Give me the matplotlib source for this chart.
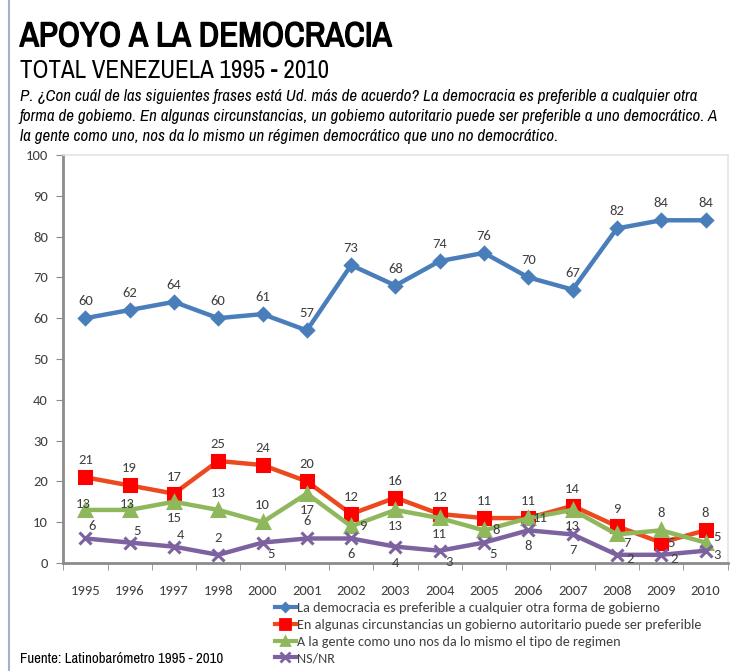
import matplotlib
matplotlib.use("Agg")
from matplotlib import pyplot as plt
from matplotlib.lines import Line2D
from matplotlib import patheffects as pe
import numpy as np

plt.rcParams['font.family'] = ['Archivo Narrow', 'Liberation Sans', 'DejaVu Sans']
NUM_FONT = ['Carlito', 'Lato', 'DejaVu Sans']

years = ['1995', '1996', '1997', '1998', '2000', '2001', '2002', '2003',
         '2004', '2005', '2006', '2007', '2008', '2009', '2010']
democracia = [60, 62, 64, 60, 61, 57, 73, 68, 74, 76, 70, 67, 82, 84, 84]
autoritario = [21, 19, 17, 25, 24, 20, 12, 16, 12, 11, 11, 14, 9, 5, 8]
da_igual = [13, 13, 15, 13, 10, 17, 9, 13, 11, 8, 11, 13, 7, 8, 5]
ns_nr = [6, 5, 4, 2, 5, 6, 6, 4, 3, 5, 8, 7, 2, 2, 3]

labels = ['La democracia es preferible a cualquier otra forma de gobierno',
          'En algunas circunstancias un gobierno autoritario puede ser preferible',
          'A la gente como uno nos da lo mismo el tipo de regimen',
          'NS/NR']

# label placement (pixel offsets from the point)
A, B, R, BR, AR = (0, 17), (0, -16), (12, 0), (9, -11), (7, 12)
off_blue = [A] * 15
off_red = [A] * 13 + [(10, 0), A]
off_green = [(-2, 6), (-2, 6), B, A, A, B, R, B, B, R, R, B, (10, -9), A, (12, 6)]
off_purple = [AR, AR, AR, A, BR, A, B, B, BR, BR, B, B, (13, -4), (13, -4), (12, -4)]

fig = plt.figure(figsize=(7.35, 6.71), dpi=100)
ax = fig.add_axes([0.086, 0.161, 0.904, 0.608])

x = np.arange(len(years))
series = [
    (democracia, '#4a7ebb', '#4a7ebb', 'D', 6, off_blue),
    (autoritario, '#ec4a1e', '#ff0000', 's', 9, off_red),
    (da_igual, '#8fb85c', '#8fb85c', '^', 8, off_green),
    (ns_nr, '#7d62a0', '#7d62a0', 'x', 9, off_purple),
]
handles = []
for vals, lc, mc, mk, ms, offs in series:
    ax.plot(x, vals, color=lc, lw=3.2, marker=mk, markersize=ms,
            markerfacecolor=mc, markeredgecolor=mc, markeredgewidth=2.2, zorder=3)
    for xi, v, o in zip(x, vals, offs):
        ax.annotate(str(v), (xi, v), xytext=o, textcoords='offset pixels',
                    ha='center', va='center', fontsize=10.5, color='#404040',
                    family=NUM_FONT, zorder=4)
    handles.append(Line2D([], [], color=lc, lw=3, marker=mk, markersize=ms * 0.75,
                          markerfacecolor=mc, markeredgecolor=mc, markeredgewidth=2))

ax.set_xlim(-0.5, len(years) - 0.5)
ax.set_ylim(0, 100)
ax.set_yticks(range(0, 101, 10))
ax.set_xticks(x)
ax.set_xticklabels(years)
ax.set_xticks(np.arange(-0.5, len(years), 1), minor=True)
ax.tick_params(axis='x', which='major', length=0, pad=16, labelsize=10.5, labelcolor='#404040')
ax.tick_params(axis='x', which='minor', length=5, color='#8c8c8c', direction='out')
ax.tick_params(axis='y', length=5, color='#8c8c8c', labelsize=10.5, labelcolor='#404040', pad=6)
for lab in ax.get_xticklabels() + ax.get_yticklabels():
    lab.set_family(NUM_FONT)
for s in ['left', 'bottom']:
    ax.spines[s].set_color('#8c8c8c')
    ax.spines[s].set_linewidth(2)
for s in ['top', 'right']:
    ax.spines[s].set_color('#e4e4e4')
    ax.spines[s].set_linewidth(1.2)

leg = fig.legend(handles, labels, loc='upper left', bbox_to_anchor=(0.364, 0.113),
                 frameon=False, handlelength=1.5, handletextpad=0.1,
                 labelspacing=0.33, borderpad=0,
                 prop={'family': NUM_FONT, 'size': 10.2})
for t in leg.get_texts():
    t.set_color('#404040')

title = fig.text(0.027, 0.931, 'APOYO A LA DEMOCRACIA', fontsize=25,
                 va='baseline', color='black')
title.set_path_effects([pe.withStroke(linewidth=1.0, foreground='black')])
fig.text(0.027, 0.884, 'TOTAL VENEZUELA 1995 - 2010', fontsize=18, va='baseline', color='black')
question = ('P. ¿Con cuál de las siguientes frases está Ud. más de acuerdo? La democracia es preferible a cualquier otra\n'
            'forma de gobiemo. En algunas circunstancias, un gobiemo autoritario puede ser preferible a uno democrático. A\n'
            'la gente como uno, nos da lo mismo un régimen democrático que uno no democrático.')
fig.text(0.027, 0.868, question, fontsize=12.2, style='italic', va='top', linespacing=1.42)
fig.text(0.027, 0.012, 'Fuente: Latinobarómetro 1995 - 2010', fontsize=10.7, va='baseline')

fig.add_artist(Line2D([0.012, 0.012], [0.0, 1.0], color='#9fb4c8', lw=1.5))

fig.savefig('out.png', dpi=100)
